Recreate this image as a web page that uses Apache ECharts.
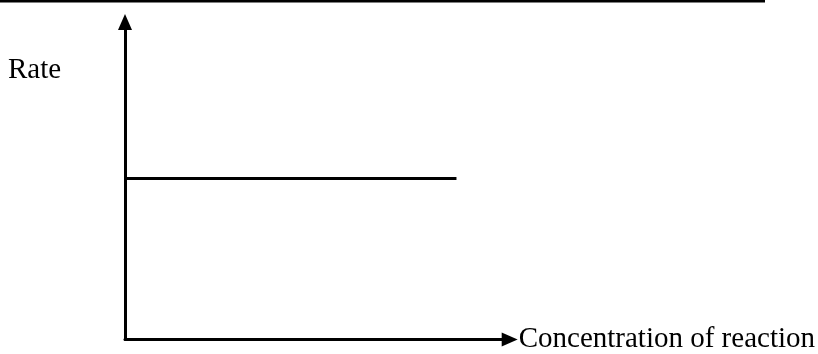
<!DOCTYPE html>
<html>
<head>
<meta charset="utf-8">
<script src="https://cdn.jsdelivr.net/npm/echarts@6/dist/echarts.min.js"></script>
<style>
html,body{margin:0;padding:0;background:#fff;}
#chart{width:818px;height:354px;}
</style>
</head>
<body>
<div id="chart"></div>
<script>
// Data
const xName = 'Concentration of reaction';
const yName = 'Rate';
const rateX = [0, 8.8];     // concentration extent of the drawn line
const rateY = [5.2, 5.2];   // constant rate (zero order)

const chart = echarts.init(document.getElementById('chart'), null, {renderer: 'canvas'});
const lineData = rateX.map((x, i) => [x, rateY[i]]);

chart.setOption({
  animation: false,
  backgroundColor: '#ffffff',
  grid: {left: 125, top: 30, width: 377, height: 311, containLabel: false},
  xAxis: {
    type: 'value', min: 0, max: 10,
    name: xName, nameLocation: 'end', nameGap: 17,
    nameTextStyle: {fontFamily: 'Liberation Serif', fontSize: 29, color: '#000', verticalAlign: 'middle'},
    axisLine: {show: true, onZero: false, symbol: ['none', 'triangle'], symbolSize: [14, 16], symbolOffset: [0, 8],
      lineStyle: {color: '#000', width: 3}},
    axisTick: {show: false}, axisLabel: {show: false}, splitLine: {show: false}
  },
  yAxis: {
    type: 'value', min: 0, max: 10,
    axisLine: {show: true, onZero: false, symbol: ['none', 'triangle'], symbolSize: [14, 16], symbolOffset: [0, 8],
      lineStyle: {color: '#000', width: 3}},
    axisTick: {show: false}, axisLabel: {show: false}, splitLine: {show: false}
  },
  graphic: [
    {type: 'line', shape: {x1: 0, y1: 1, x2: 765, y2: 1}, style: {stroke: '#000', lineWidth: 3}},
    {type: 'text', left: 8, top: 56, style: {text: yName, font: '29px "Liberation Serif"', fill: '#000'}}
  ],
  series: [{
    type: 'line', data: lineData, symbol: 'none',
    lineStyle: {color: '#000', width: 3}
  }]
});
</script>
</body>
</html>
